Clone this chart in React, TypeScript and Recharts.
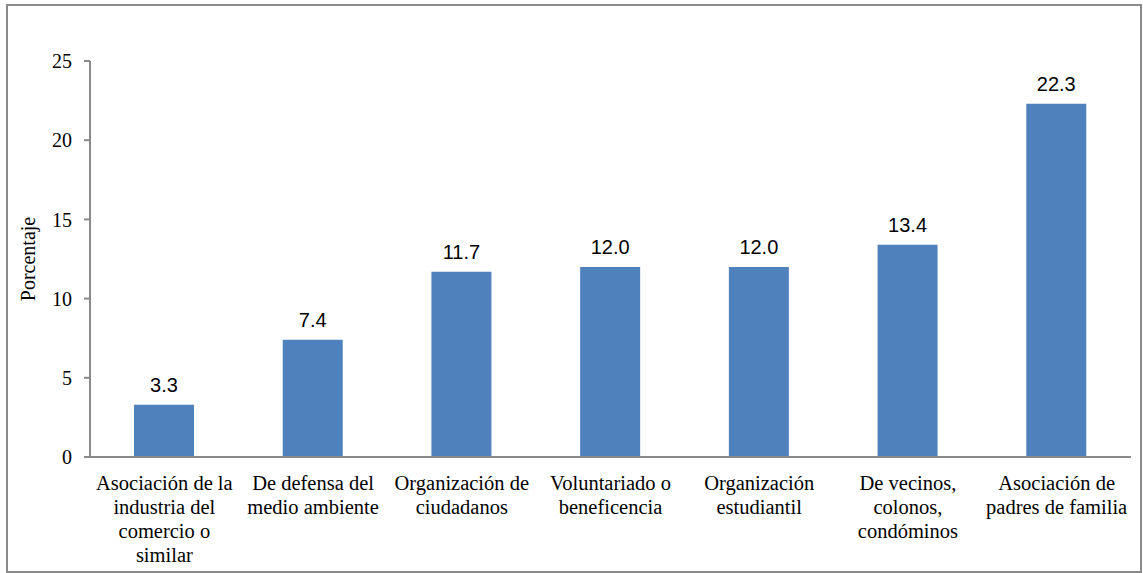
import React from "react";
import { BarChart, Bar, XAxis, YAxis, LabelList, Label } from "recharts";

const categories = [
  "Asociación de la industria del comercio o similar",
  "De defensa del medio ambiente",
  "Organización de ciudadanos",
  "Voluntariado o beneficencia",
  "Organización estudiantil",
  "De vecinos, colonos, condóminos",
  "Asociación de padres de familia",
];
const categoryLines = [
  ["Asociación de la", "industria del", "comercio o", "similar"],
  ["De defensa del", "medio ambiente"],
  ["Organización de", "ciudadanos"],
  ["Voluntariado o", "beneficencia"],
  ["Organización", "estudiantil"],
  ["De vecinos,", "colonos,", "condóminos"],
  ["Asociación de", "padres de familia"],
];
const values = [3.3, 7.4, 11.7, 12.0, 12.0, 13.4, 22.3];
const yTicks = [0, 5, 10, 15, 20, 25];

const data = categories.map((c, i) => ({ name: c, value: values[i] }));

const SERIF = "Liberation Serif";
const SANS = "Liberation Sans";

function CatTick(props: any) {
  const { x, y, index } = props;
  const lines = categoryLines[index] || [];
  return (
    <g>
      {lines.map((l, k) => (
        <text key={k} x={x} y={y + 25 + k * 24} textAnchor="middle" fontFamily={SERIF} fontSize={20.5} fill="#000">
          {l}
        </text>
      ))}
    </g>
  );
}

function ValueLabel(props: any) {
  const { x, y, width, value } = props;
  return (
    <text x={x + width / 2} y={y - 13} textAnchor="middle" fontFamily={SANS} fontSize={20} fill="#000">
      {Number(value).toFixed(1)}
    </text>
  );
}

export default function App() {
  return (
    <div
      style={{
        position: "absolute",
        left: 6,
        top: 4,
        width: 1136,
        height: 569,
        boxSizing: "border-box",
        border: "2px solid #8a8a8a",
        background: "#fff",
      }}
    >
      <BarChart width={1132} height={565} data={data} margin={{ top: 55, right: 9, bottom: 0, left: 0 }}>
        <XAxis
          dataKey="name"
          tickLine={false}
          axisLine={{ stroke: "#8a8a8a", strokeWidth: 2 }}
          tick={<CatTick />}
          interval={0}
          height={114}
        />
        <YAxis
          width={82}
          domain={[0, 25]}
          ticks={yTicks}
          interval={0}
          tickSize={6}
          tickMargin={12}
          axisLine={{ stroke: "#8a8a8a", strokeWidth: 2 }}
          tickLine={{ stroke: "#8a8a8a", strokeWidth: 2 }}
          tick={{ fontFamily: SERIF, fontSize: 20, fill: "#000" }}
        >
          <Label
            value="Porcentaje"
            angle={-90}
            position="insideLeft"
            offset={20}
            style={{ fontFamily: SERIF, fontSize: 20, fill: "#000", textAnchor: "middle" }}
          />
        </YAxis>
        <Bar dataKey="value" fill="#4f81bd" barSize={60} isAnimationActive={false}>
          <LabelList dataKey="value" content={<ValueLabel />} />
        </Bar>
      </BarChart>
    </div>
  );
}
